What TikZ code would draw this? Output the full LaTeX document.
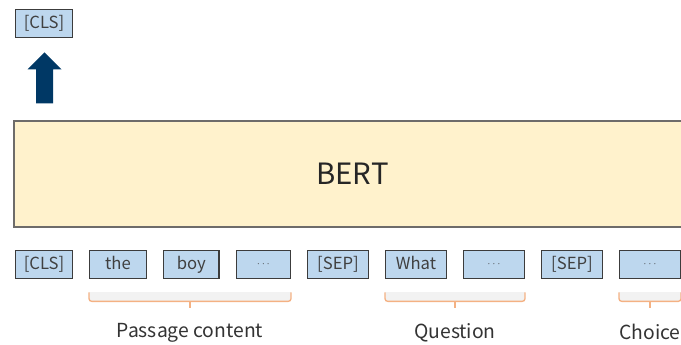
\documentclass[tikz,border=0pt]{standalone}
\usepackage{fontspec}
\setmainfont{Noto Sans CJK SC}
\usetikzlibrary{positioning,calc}
\definecolor{TokBlue}{RGB}{189,215,238}
\definecolor{TokLine}{RGB}{60,60,60}
\definecolor{BertFill}{RGB}{255,242,204}
\definecolor{BertLine}{RGB}{110,108,106}
\definecolor{ArrBlue}{RGB}{0,56,101}
\definecolor{BrOrange}{RGB}{244,177,131}
\definecolor{BrFill}{RGB}{242,242,242}
\newcommand{\tokdots}{\raisebox{2.2pt}{\scriptsize$\cdots$}}
\tikzset{
  tok/.style={draw=TokLine,fill=TokBlue,line width=1pt,inner sep=0pt,
              minimum width=42.5pt,minimum height=21pt,
              text height=0.8em,text depth=0.14em,
              font=\fontsize{12.5}{14}\selectfont,text=black!75},
  wtok/.style={tok,minimum width=45.5pt},
  bertbox/.style={draw=BertLine,fill=BertFill,line width=1.5pt,
                  minimum width=507.75pt,minimum height=79.5pt,
                  font=\fontsize{22}{26}\selectfont,text=black!85},
  upar/.style={fill=ArrBlue},
  brace/.style={draw=BrOrange,line width=1pt,rounded corners=2pt},
  part/.style={font=\fontsize{14.5}{17}\selectfont,text=black!80},
}

\begin{document}
\begin{tikzpicture}[x=0.75pt,y=-0.75pt,node distance=12pt]
  \useasboundingbox (0,0) rectangle (681,344);
  \clip (0,0) rectangle (681,344);

  % output token and arrow
  \node[tok,anchor=north west] (out) at (15,9) {[CLS]};
  \coordinate (abase) at ($(out.south)+(0.5,65)$);
  \fill[upar] (abase) ++(-8.5,0) -- ++(0,-34) -- ++(-8.5,0) -- ++(17,-17)
    -- ++(17,17) -- ++(-8.5,0) -- ++(0,34) -- cycle;

  \node[bertbox,anchor=north west] (bert) at (13,120) {BERT};

  % input sequence
  \node[tok,anchor=north west] (cls) at (15,250) {[CLS]};
  \node[tok,right=of cls] (the) {the};
  \node[tok,minimum width=41.5pt,right=of the] (boy) {boy};
  \node[tok,minimum width=40.5pt,right=of boy] (dotsa) {\tokdots};
  \node[wtok,right=of dotsa] (sepa) {[SEP]};
  \node[wtok,right=of sepa] (what) {What};
  \node[wtok,right=of what] (dotsb) {\tokdots};
  \node[wtok,right=of dotsb] (sepb) {[SEP]};
  \node[wtok,right=of sepb] (dotsc) {\tokdots};

  % segment braces
  \foreach \a/\b/\n/\t in {the/dotsa/pc/Passage content,
                           what/dotsb/qu/Question,
                           dotsc/dotsc/ch/Choice}{
    \coordinate (l) at ($(\a.south west)+(0,13)$);
    \coordinate (r) at ($(\b.south east)+(0,13)$);
    \fill[BrFill] (l) rectangle ($(r)+(0,9)$);
    \draw[brace] (l) -- ($(l)+(0,9)$) -- ($(r)+(0,9)$) -- (r);
    \draw[BrOrange,line width=1pt] ($(l)!0.5!(r)+(0,9)$) -- ++(0,7);
    \node[part] (\n) at ($(l)!0.5!(r)+(0,40)$) {\t};
  }
\end{tikzpicture}
\end{document}
